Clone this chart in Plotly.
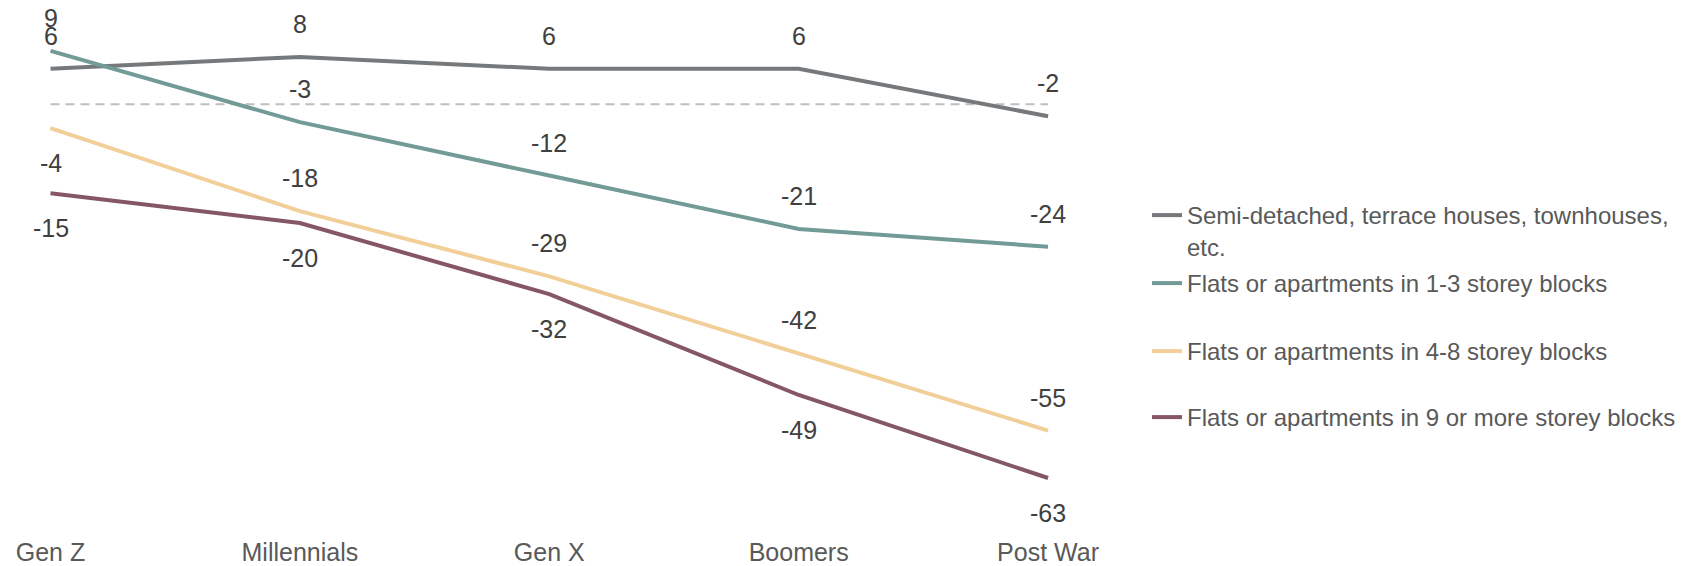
import plotly.graph_objects as go

generations = ["Gen Z", "Millennials", "Gen X", "Boomers", "Post War"]

series_names = [
    "Semi-detached, terrace houses, townhouses,<br>etc.",
    "Flats or apartments in 1-3 storey blocks",
    "Flats or apartments in 4-8 storey blocks",
    "Flats or apartments in 9 or more storey blocks",
]
semi_detached = [6, 8, 6, 6, -2]
flats_1_3 = [9, -3, -12, -21, -24]
flats_4_8 = [-4, -18, -29, -42, -55]
flats_9_plus = [-15, -20, -32, -49, -63]
zero_line = [0, 0, 0, 0, 0]

series_values = [semi_detached, flats_1_3, flats_4_8, flats_9_plus]
series_colors = ["#76797C", "#729B97", "#F2CF98", "#855663"]
# label placement per point: +1 above the line, -1 below it
label_sides = [
    [1, 1, 1, 1, 1],
    [1, 1, 1, 1, 1],
    [-1, 1, 1, 1, 1],
    [-1, -1, -1, -1, -1],
]

W, H = 1686, 566
MT, MB = 0, 34
plot_h = H - MT - MB

fig = go.Figure()

fig.add_trace(go.Scatter(
    x=generations, y=zero_line, mode="lines",
    line=dict(color="#BFBFBF", width=2, dash="9px,6px"),
    showlegend=False, hoverinfo="skip",
))

legend_tops_px = [193, 261, 329, 395]
legend_ids = ["legend", "legend2", "legend3", "legend4"]

for name, vals, color, lid in zip(series_names, series_values, series_colors, legend_ids):
    fig.add_trace(go.Scatter(
        x=generations, y=vals, mode="lines", name=name,
        line=dict(color=color, width=4),
        legend=lid,
    ))

annotations = []
for vals, sides in zip(series_values, label_sides):
    for g, v, s in zip(generations, vals, sides):
        annotations.append(dict(
            x=g, y=v, xref="x", yref="y", text=str(v), showarrow=False,
            yshift=33 if s > 0 else -35, xanchor="center", yanchor="middle",
            font=dict(family="Liberation Sans, Arial, sans-serif", size=25, color="#404040"),
        ))

legend_font = dict(family="Liberation Sans, Arial, sans-serif", size=24, color="#595959")
legend_layout = {}
for lid, top in zip(legend_ids, legend_tops_px):
    legend_layout[lid] = dict(
        x=1147 / W, xanchor="left",
        y=1 - (top - MT) / plot_h, yanchor="top",
        font=legend_font, bgcolor="rgba(0,0,0,0)", borderwidth=0,
        valign="top", itemclick=False, itemdoubleclick=False,
    )

fig.update_layout(
    width=W, height=H,
    margin=dict(l=0, r=0, t=MT, b=MB, pad=0),
    paper_bgcolor="white", plot_bgcolor="white",
    annotations=annotations,
    showlegend=True,
    **legend_layout,
)

fig.update_xaxes(
    type="category", categoryorder="array", categoryarray=generations,
    range=[-0.2025, 6.558], showgrid=False, zeroline=False, showline=False,
    ticks="", ticklabelstandoff=3,
    tickfont=dict(family="Liberation Sans, Arial, sans-serif", size=25, color="#595959"),
    fixedrange=True,
)
fig.update_yaxes(
    range=[-72.1, 17.59], showgrid=False, zeroline=False, showline=False,
    showticklabels=False, fixedrange=True,
)

fig.write_html("out.html")
